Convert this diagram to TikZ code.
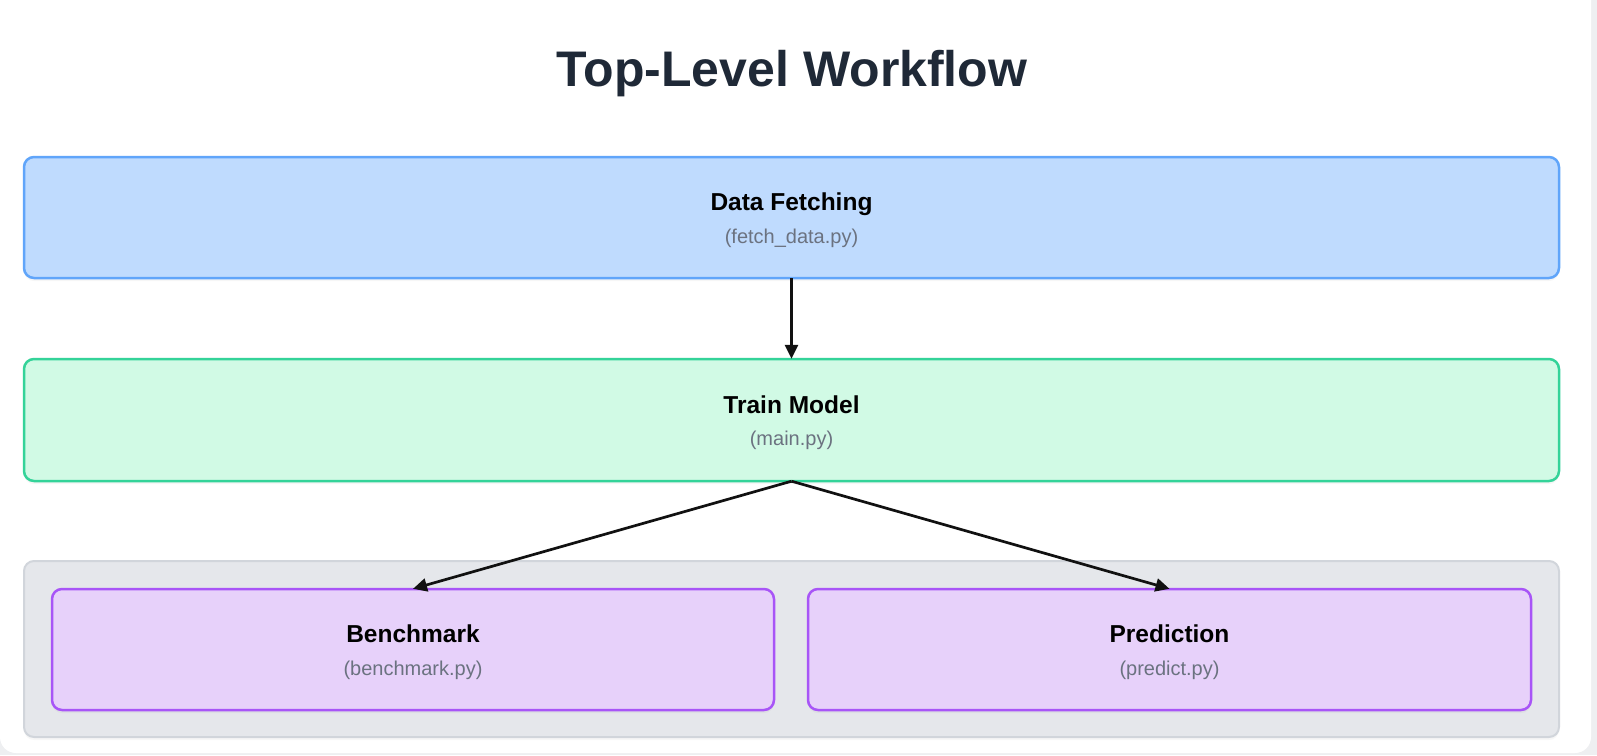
\documentclass[tikz,border=0pt]{standalone}
\usepackage{fontspec}
\setmainfont{Liberation Sans}
\usetikzlibrary{arrows.meta,shadows}
\definecolor{pagebg}{HTML}{EEEFF1}
\definecolor{titlec}{HTML}{1F2937}
\definecolor{subc}{HTML}{6B7280}
\definecolor{bluefill}{HTML}{BFDBFE}
\definecolor{blueline}{HTML}{60A5FA}
\definecolor{greenfill}{HTML}{D1FAE5}
\definecolor{greenline}{HTML}{34D399}
\definecolor{purplefill}{HTML}{E7D1FA}
\definecolor{purpleline}{HTML}{A855F7}
\definecolor{grayfill}{HTML}{E5E7EB}
\definecolor{grayline}{HTML}{D1D5DB}
\definecolor{arrowc}{HTML}{111111}
\tikzset{
  box/.style={draw, line width=2.5pt, rounded corners=10pt, inner sep=0pt,
    drop shadow={shadow xshift=0pt, shadow yshift=-3pt, opacity=0.07}},
  maintxt/.style={anchor=base, font=\fontsize{24.5}{28}\selectfont\bfseries, text=black},
  subtxt/.style={anchor=base, font=\fontsize{20}{24}\selectfont, text=subc},
  flow/.style={draw=arrowc, line width=2.7pt, -{Triangle[length=14pt,width=13pt]}},
}
\begin{document}
\begin{tikzpicture}[x=1pt,y=-1pt]
\useasboundingbox (0,0) rectangle (1597,755);
\fill[pagebg] (0,0) rectangle (1597,755);
\fill[white, rounded corners=16pt] (0,-20) rectangle (1591,753);

\node[font=\fontsize{50}{56}\selectfont\bfseries, text=titlec, anchor=base] (title) at (792,86) {Top-Level Workflow};

% container
\draw[fill=grayfill, draw=grayline, line width=2pt, rounded corners=10pt,
  drop shadow={shadow xshift=0pt, shadow yshift=-3pt, opacity=0.06}]
  (24,561) rectangle (1559,737);
\coordinate (cont) at (791.5,649);

% boxes
\draw[box, fill=bluefill, draw=blueline] (24,157) rectangle (1559,278);
\node[minimum width=1535pt, minimum height=121pt] (df) at (791.5,217.5) {};
\draw[box, fill=greenfill, draw=greenline] (24,359) rectangle (1559,481);
\node[minimum width=1535pt, minimum height=122pt] (tm) at (791.5,420) {};
\draw[box, fill=purplefill, draw=purpleline] (52,589) rectangle (774,710);
\node[minimum width=722pt, minimum height=121pt] (bm) at (413,649.5) {};
\draw[box, fill=purplefill, draw=purpleline] (808,589) rectangle (1531,710);
\node[minimum width=723pt, minimum height=121pt] (pr) at (1169.5,649.5) {};

% texts
\node[maintxt] (dft) at (791.5,210.8) {Data Fetching};
\node[subtxt] (dfs) at (791.5,243.3) {(fetch\_data.py)};
\node[maintxt] (tmt) at (791.5,413.3) {Train Model};
\node[subtxt] (tms) at (791.5,445.8) {(main.py)};
\node[maintxt] (bmt) at (413,642.8) {Benchmark};
\node[subtxt] (bms) at (413,675.3) {(benchmark.py)};
\node[maintxt] (prt) at (1169.5,642.8) {Prediction};
\node[subtxt] (prs) at (1169.5,675.3) {(predict.py)};

% connectors
\draw[flow] (df.south) -- (tm.north);
\draw[flow] (tm.south) -- (bm.north);
\draw[flow] (tm.south) -- (pr.north);
\end{tikzpicture}
\end{document}
